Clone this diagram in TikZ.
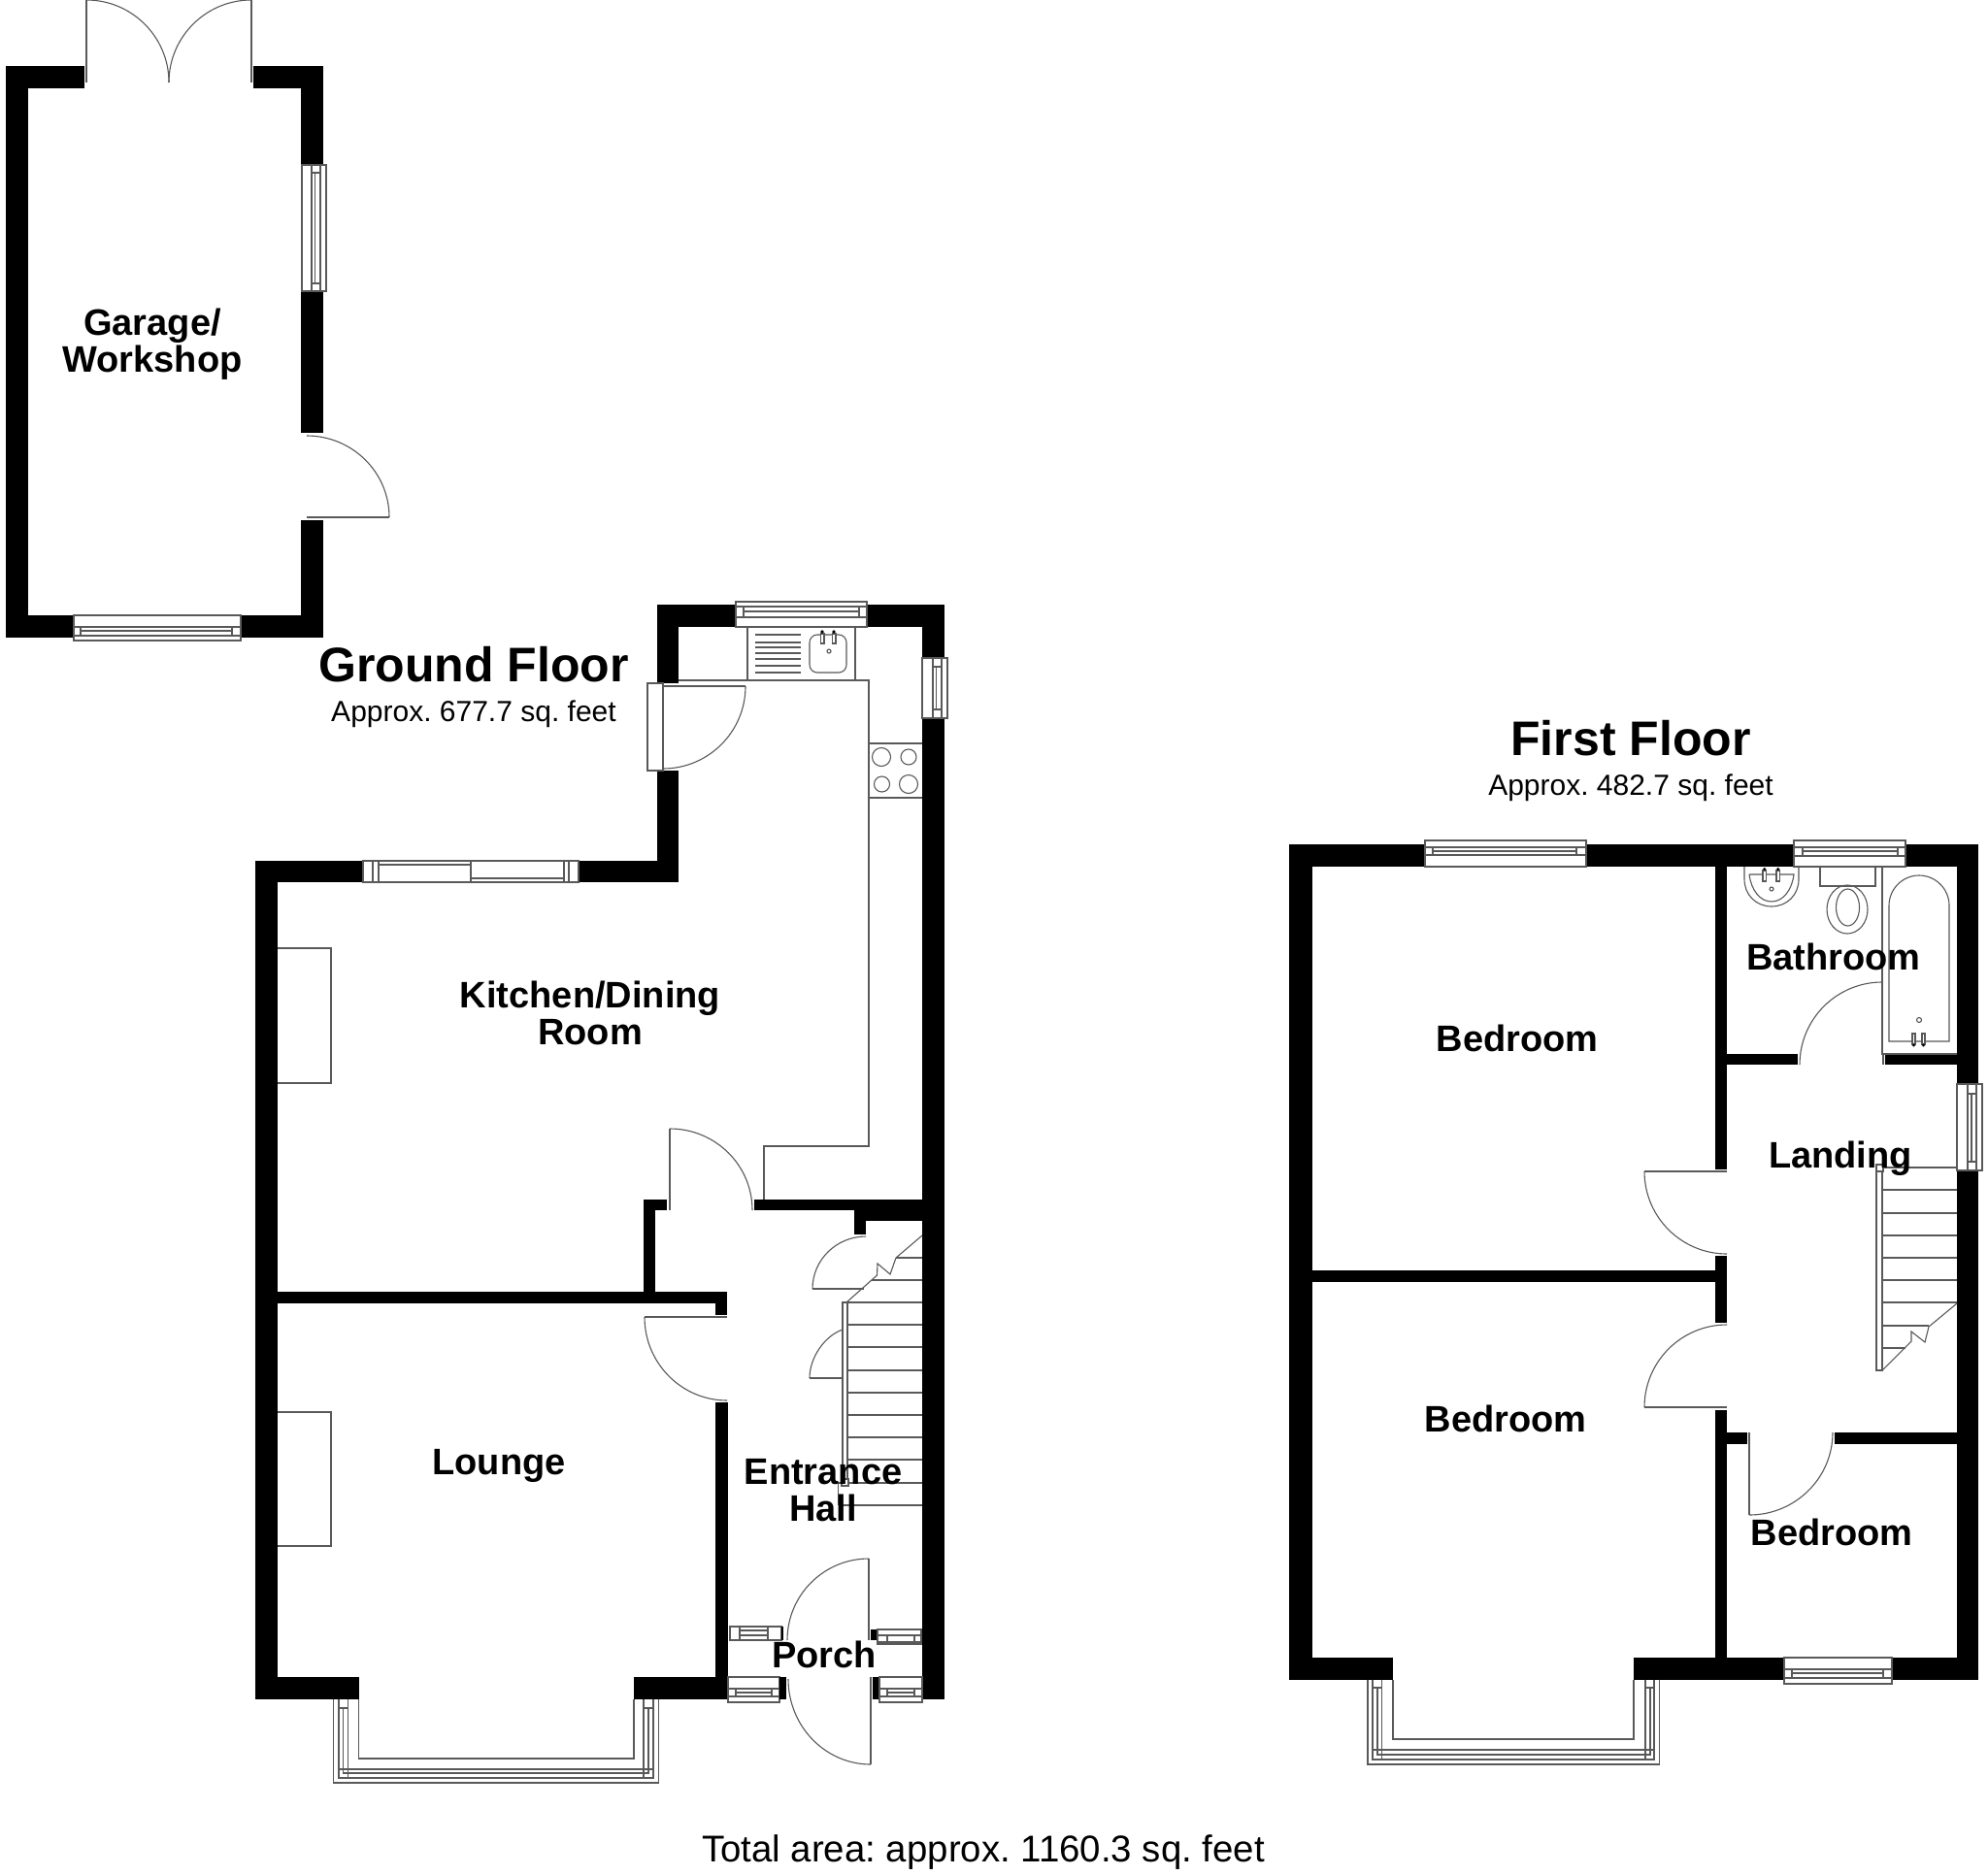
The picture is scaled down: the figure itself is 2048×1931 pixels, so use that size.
\documentclass[tikz,border=0pt]{standalone}
\usepackage{fontspec}
\setmainfont{Liberation Sans}
\usetikzlibrary{calc}
\tikzset{
  ln/.style={draw=black!65,line width=0.55pt},
  lab/.style={anchor=base,inner sep=0pt,font=\fontsize{19}{19}\selectfont\bfseries},
  ttl/.style={anchor=base,inner sep=0pt,font=\fontsize{25}{25}\selectfont\bfseries},
  sub/.style={anchor=base,inner sep=0pt,font=\fontsize{15}{15}\selectfont\frenchspacing},
  tot/.style={anchor=base,inner sep=0pt,font=\fontsize{19.2}{19}\selectfont\frenchspacing},
}
\newcommand\wallbox[2]{\fill[black] (#1) rectangle (#2);}
\newcommand\qarc[3]{\draw[ln] (#1) .. controls ($(#1)!0.552!(#2)$) and ($(#3)!0.552!(#2)$) .. (#3);}
\newcommand\wbox[2]{\draw[ln,fill=white] (#1) rectangle (#2);}
\begin{document}
\begin{tikzpicture}[x=0.5pt,y=-0.5pt]
\useasboundingbox (0,0) rectangle (2048,1931);
\fill[white] (0,0) rectangle (2048,1931);

% ---- Garage walls
\wallbox{6,68}{87,91}
\wallbox{261,68}{333,91}
\wallbox{6,68}{29,657}
\wallbox{310,68}{333,170}
\wallbox{310,300}{333,446}
\wallbox{310,536}{333,657}
\wallbox{6,634}{76,657}
\wallbox{248,634}{333,657}
% french doors
\draw[ln] (89,85)--(89,0);
\draw[ln] (259,85)--(259,0);
\qarc{89,0}{174,0}{174,85}
\qarc{259,0}{174,0}{174,85}
% side door
\draw[ln] (316,533)--(401,533);
\qarc{316,449}{401,449}{401,533}
% side window
\wbox{311,170}{336,300}
\draw[ln] (321,170)--(321,300) (330,170)--(330,300) (321,178)--(330,178) (321,292)--(330,292) (324.5,178)--(324.5,292);
% bottom window
\wbox{76,634}{248,660}
\draw[ln] (76,646)--(248,646) (76,655)--(248,655) (83,646)--(83,655) (239,646)--(239,655) (83,650)--(239,650);

% ---- Ground floor walls
\wallbox{677,623}{758,646}
\wallbox{893,623}{973,646}
\wallbox{677,623}{699,704}
\wallbox{677,794}{699,909}
\wallbox{263,887}{374,909}
\wallbox{596,887}{699,909}
\wallbox{263,887}{286,1751}
\wallbox{950,623}{973,678}
\wallbox{950,740}{973,1751}
\wallbox{777,1236}{950,1247}
\wallbox{663,1236}{687,1247}
\wallbox{663,1236}{675,1332}
\wallbox{286,1331}{749,1343}
\wallbox{737,1331}{749,1355}
\wallbox{737,1445}{750,1751}
\wallbox{880,1247}{950,1258}
\wallbox{880,1258}{892,1272}
\wallbox{263,1728}{369.5,1751}
\wallbox{653,1728}{750,1751}

% kitchen top window
\wbox{758,620}{893,646}
\draw[ln] (758,625)--(893,625) (758,636)--(893,636) (766,625)--(766,636) (885,625)--(885,636) (766,630)--(885,630);
% kitchen side window
\wbox{950,678}{976,740}
\draw[ln] (961,678)--(961,740) (970,678)--(970,740) (961,687)--(970,687) (961,731)--(970,731) (964.5,687)--(964.5,731);
% back door
\wbox{667,704}{683,794}
\draw[ln] (683,707)--(768,707);
\qarc{768,707}{768,792}{683,792}
% worktop
\draw[ln] (699,701)--(895,701)--(895,1181)--(787,1181)--(787,1236);
% sink
\draw[ln] (770,646)--(770,701) (881,646)--(881,701);
\draw[ln] (778,654)--(825,654) (778,662)--(825,662) (778,667)--(825,667) (778,673)--(825,673) (778,679)--(825,679) (778,686)--(825,686) (778,693)--(825,693);
\draw[ln,rounded corners=4pt] (834,654) rectangle (872,693);
\draw[ln] (854,671) circle[radius=2];
\wbox{845.5,653}{849,663}
\wbox{857.5,653}{861,663}
\fill[black] (847,651) circle[radius=1.8] (859,651) circle[radius=1.8];
% hob
\draw[ln] (895,766)--(950,766) (895,822)--(950,822);
\draw[ln] (908,780) circle[radius=9.5] (936,780) circle[radius=8] (908.5,808) circle[radius=8] (936,808) circle[radius=9.5];
% dining window
\wbox{374,887}{596,909}
\draw[ln] (384,887)--(384,909) (390,887)--(390,909) (485,887)--(485,909) (581,887)--(581,909) (586,887)--(586,909) (390,891)--(485,891) (485,905)--(581,905);
% fireplaces
\draw[ln] (286,977)--(341,977)--(341,1116)--(286,1116);
\draw[ln] (286,1455)--(341,1455)--(341,1593)--(286,1593);
% kitchen door
\draw[ln] (690,1163)--(690,1247);
\qarc{690,1163}{775,1163}{775,1247}
% lounge door
\draw[ln] (664,1357)--(749,1357);
\qarc{664,1357}{664,1443}{749,1443}
% cupboard doors
\qarc{892,1274}{837,1274}{837,1328}
\draw[ln] (837,1328)--(890,1328);
\qarc{868,1370}{834,1382}{834,1420}
\draw[ln] (834,1420)--(868,1420);
% stairs
\draw[ln] (950,1273)--(923,1296)--(917,1313)--(904,1302)--(903.5,1314)--(872,1342);
\draw[ln] (923,1296)--(950,1296) (898,1319)--(950,1319);
\foreach \yy in {1342,1365,1388,1412,1435,1458,1481,1504,1528} {\draw[ln] (873,\yy)--(950,\yy);}
\draw[ln] (863.5,1551)--(950,1551);
\draw[ln] (867,1528)--(863.5,1528)--(863.5,1551);
\draw[ln] (868,1342) rectangle (873,1524);
\draw[ln] (867,1524) rectangle (874,1531);
% porch doors
\draw[ln] (895,1606)--(895,1690);
\qarc{895,1606}{811,1606}{811,1690}
\draw[ln] (897,1728)--(897,1818);
\qarc{897,1818}{812,1818}{812,1730}
% porch windows
\wbox{752,1676}{805,1690}
\draw[ln] (762,1676)--(762,1690) (791,1676)--(791,1690) (762,1680)--(791,1680) (762,1685)--(791,1685);
\wallbox{805,1676}{807,1690}
\wbox{750,1728}{803,1754}
\draw[ln] (750,1740)--(803,1740) (750,1748)--(803,1748) (758,1740)--(758,1748) (795,1740)--(795,1748) (758,1744)--(795,1744);
\wallbox{803,1728}{810,1751}
\wallbox{897,1679}{904,1690}
\wbox{904,1679}{949,1694}
\draw[ln] (904,1685)--(949,1685) (904,1692)--(949,1692) (914,1685)--(914,1692) (942,1685)--(942,1692);
\wallbox{899,1728}{906,1751}
\wbox{906,1728}{950,1754}
\draw[ln] (906,1740)--(950,1740) (906,1748)--(950,1748) (914,1740)--(914,1748) (942,1740)--(942,1748) (914,1744)--(942,1744);
% lounge bay
\draw[ln] (369.5,1751)--(369.5,1812)--(653,1812)--(653,1751);
\draw[ln] (343.5,1751)--(343.5,1837)--(678.5,1837)--(678.5,1751);
\draw[ln] (349,1751)--(349,1832)--(673,1832)--(673,1751);
\draw[ln] (358.5,1751)--(358.5,1823)--(663,1823)--(663,1751);
\draw[ln] (353.5,1760)--(353.5,1827)--(668,1827)--(668,1760);
\draw[ln] (349,1760)--(358.5,1760) (663,1760)--(673,1760) (358.5,1823)--(358.5,1832) (663,1823)--(663,1832) (349,1823)--(358.5,1823) (663,1823)--(673,1823);

% ---- First floor walls
\wallbox{1328,870}{1468,893}
\wallbox{1634,870}{1848,893}
\wallbox{1963,870}{2038,893}
\wallbox{1328,870}{1352,1731}
\wallbox{2016,870}{2038,1117}
\wallbox{2016,1206}{2038,1731}
\wallbox{1328,1708}{1435,1731}
\wallbox{1683,1708}{1838,1731}
\wallbox{1949,1708}{2038,1731}
\wallbox{1767,893}{1779,1205}
\wallbox{1767,1294}{1779,1363}
\wallbox{1767,1453}{1779,1708}
\wallbox{1352,1309}{1767,1321}
\wallbox{1779,1086}{1852,1097}
\wallbox{1942,1086}{2016,1097}
\wallbox{1779,1476}{1800,1488}
\wallbox{1890,1476}{2016,1488}
% first-floor top windows
\wbox{1468,866}{1634,893}
\draw[ln] (1468,873)--(1634,873) (1468,881)--(1634,881) (1476,873)--(1476,881) (1624,873)--(1624,881) (1476,877)--(1624,877);
\wbox{1848,866}{1963,893}
\draw[ln] (1848,873)--(1963,873) (1848,882)--(1963,882) (1857,873)--(1857,882) (1955,873)--(1955,882) (1857,877)--(1955,877);
% landing window
\wbox{2016,1117}{2042,1206}
\draw[ln] (2027,1117)--(2027,1206) (2036,1117)--(2036,1206) (2027,1127)--(2036,1127) (2027,1197)--(2036,1197) (2031,1127)--(2031,1197);
% bottom small window
\wbox{1838,1708}{1949,1735}
\draw[ln] (1838,1720)--(1949,1720) (1838,1729)--(1949,1729) (1846,1720)--(1846,1729) (1940,1720)--(1940,1729) (1846,1724)--(1940,1724);
% bedroom bay
\draw[ln] (1435,1731)--(1435,1792)--(1683,1792)--(1683,1731);
\draw[ln] (1409,1731)--(1409,1818)--(1709.5,1818)--(1709.5,1731);
\draw[ln] (1414,1731)--(1414,1813)--(1704,1813)--(1704,1731);
\draw[ln] (1423.5,1731)--(1423.5,1803)--(1695,1803)--(1695,1731);
\draw[ln] (1419,1739)--(1419,1808)--(1700,1808)--(1700,1739);
\draw[ln] (1414,1739)--(1423.5,1739) (1695,1739)--(1704,1739) (1423.5,1803)--(1423.5,1813) (1695,1803)--(1695,1813) (1414,1803)--(1423.5,1803) (1695,1803)--(1704,1803);
% bath
\draw[ln] (1939,893)--(1939,1086)--(2016,1086);
\draw[ln] (1940,1086)--(1940,1097);
\draw[ln] (1946,1073)--(1946,933) .. controls (1946,916) and (1960,902) .. (1977,902) .. controls (1994,902) and (2008,916) .. (2008,933)--(2008,1073)--cycle;
\draw[ln] (1977,1051) circle[radius=2.5];
\wbox{1970,1065}{1973,1076}
\wbox{1980,1065}{1983,1076}
\fill[black] (1971.5,1077) circle[radius=1.7] (1981.5,1077) circle[radius=1.7];
% basin
\draw[ln] (1797,893)--(1797,906) .. controls (1797,922) and (1809,934) .. (1825,934) .. controls (1841,934) and (1853,922) .. (1853,906)--(1853,893);
\draw[ln] (1802,901)--(1848,901) .. controls (1846,917) and (1837,929) .. (1825,929) .. controls (1813,929) and (1804,917) .. (1802,901);
\draw[ln] (1825,916) circle[radius=2];
\wbox{1816,897}{1819.5,908}
\wbox{1830,897}{1833.5,908}
\fill[black] (1817.7,895.5) circle[radius=1.7] (1831.7,895.5) circle[radius=1.7];
% toilet
\draw[ln] (1875,893) rectangle (1932,913);
\draw[ln] (1903,937) ellipse[x radius=21,y radius=25];
\draw[ln] (1903.5,935) ellipse[x radius=12,y radius=19];
% first floor doors
\qarc{1939,1012}{1854,1012}{1854,1097}
\draw[ln] (1694,1207)--(1779,1207);
\qarc{1694,1207}{1694,1292}{1779,1292}
\qarc{1779,1365}{1694,1365}{1694,1450}
\draw[ln] (1694,1450)--(1779,1450);
\draw[ln] (1802,1476)--(1802,1561);
\qarc{1888,1476}{1888,1561}{1802,1561}
% landing stairs
\foreach \yy in {1203,1226,1250,1273,1296,1319,1342} {\draw[ln] (1939,\yy)--(2016,\yy);}
\draw[ln] (1939,1366)--(1987,1366) (1939,1389)--(1963,1389);
\draw[ln] (2016,1343)--(1987,1367)--(1983,1383)--(1969,1372)--(1969,1382)--(1939,1412);
\draw[ln] (1933,1203) rectangle (1939,1412);
\draw[ln,fill=white] (1933,1200) rectangle (1940,1207);

% ---- Labels
\node[lab] (garageA) at (157,345) {Garage/};
\node[lab] (garageB) at (157,383) {Workshop};
\node[ttl] (gfloor) at (488,702) {Ground Floor};
\node[sub] (garea) at (488,743) {Approx. 677.7 sq. feet};
\node[lab] (kitchenA) at (608,1038) {Kitchen/Dining};
\node[lab] (kitchenB) at (608,1076) {Room};
\node[lab] (lounge) at (514,1519) {Lounge};
\node[lab] (entA) at (848,1529) {Entrance};
\node[lab] (entB) at (848,1567) {Hall};
\node[lab] (porch) at (849,1718) {Porch};
\node[ttl] (ffloor) at (1680,778) {First Floor};
\node[sub] (farea) at (1680,819) {Approx. 482.7 sq. feet};
\node[lab] (bedA) at (1563,1083) {Bedroom};
\node[lab] (bedB) at (1551,1475) {Bedroom};
\node[lab] (bedC) at (1887,1592) {Bedroom};
\node[lab] (bath) at (1889,999) {Bathroom};
\node[lab] (landing) at (1896,1203) {Landing};
\node[tot] (total) at (1013,1918) {Total area: approx. 1160.3 sq. feet};
\end{tikzpicture}
\end{document}
